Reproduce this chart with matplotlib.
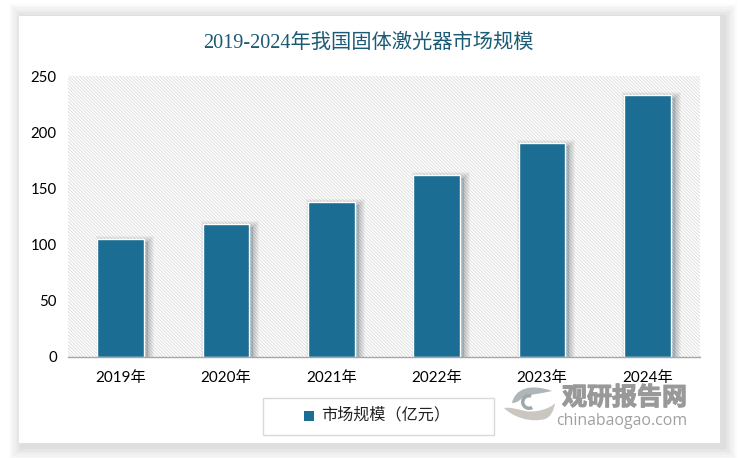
import matplotlib
matplotlib.use("Agg")
import matplotlib.pyplot as plt
import matplotlib.patheffects as pe
from matplotlib.patches import Rectangle, Wedge, PathPatch
from matplotlib.path import Path

# Data
years = ["2019年", "2020年", "2021年", "2022年", "2023年", "2024年"]
market_size = [105, 118, 138, 162, 190, 233]
y_ticks = [0, 50, 100, 150, 200, 250]
title = "2019-2024年我国固体激光器市场规模"
legend_label = "市场规模（亿元）"

W, H = 738, 458
BAR_COLOR = "#1b6d93"
TITLE_COLOR = "#1b5a75"
font_mixed = ["Liberation Serif", "Noto Sans CJK SC"]
font_ticks = ["Lato", "Noto Sans CJK SC"]

plt.rcParams["hatch.linewidth"] = 0.6
plt.rcParams["hatch.color"] = "#dadada"

fig = plt.figure(figsize=(W / 100, H / 100), dpi=100, facecolor="white")


def px_rect(x0, y0, x1, y1, **kw):
    # rectangle in pixels, y measured from the top
    return Rectangle((x0 / W, 1 - y1 / H), (x1 - x0) / W, (y1 - y0) / H,
                     transform=fig.transFigure, **kw)


def curve(points):
    # closed shape from a start point and cubic bezier triples
    codes = [Path.MOVETO] + [Path.CURVE4] * (len(points) - 1)
    return Path(points, codes)


# card with a soft shadow, kept behind the axes
for i in range(8, 0, -1):
    fig.add_artist(px_rect(19 - i * 1.6 + 3, 16 - i * 1.6 + 1, 720 + i * 1.6 + 4, 443 + i * 1.6 + 4,
                           facecolor="black", edgecolor="none", alpha=0.016, zorder=-5))
fig.add_artist(px_rect(19, 16, 720, 443, facecolor="white", edgecolor="none", zorder=-4))

ax = fig.add_axes([68 / W, 1 - 357 / H, (700 - 68) / W, (357 - 76) / H])
ax.patch.set_alpha(0)
ax.add_patch(Rectangle((0, 0), 1, 1, transform=ax.transAxes, facecolor="white",
                       edgecolor="#dadada", hatch="\\" * 10, linewidth=0, zorder=0))

# blurred shadow, shifted right and down
shadow = []
for r in [6, 5, 4, 3, 2, 1]:
    shadow.append(pe.Stroke(offset=(2.9, -2.2), linewidth=2 * r * 0.72, foreground="black", alpha=0.035))
shadow.append(pe.Normal())
bars = ax.bar(range(len(years)), market_size, width=0.44, color=BAR_COLOR,
              edgecolor="white", linewidth=1.0, zorder=2)
for b in bars:
    b.set_path_effects(shadow)

ax.set_xlim(-0.5, 5.5)
ax.set_ylim(0, 250)
ax.set_yticks(y_ticks)
ax.set_xticks(range(len(years)))
ax.set_xticklabels(years, family=font_ticks, fontsize=11)
ax.set_yticklabels([str(v) for v in y_ticks], family=font_ticks, fontsize=10.8)
ax.tick_params(axis="y", length=0, pad=8)
ax.tick_params(axis="x", length=0, pad=10)
for s in ["top", "left", "right"]:
    ax.spines[s].set_visible(False)
ax.spines["bottom"].set_color("#a6a6a6")
ax.spines["bottom"].set_linewidth(1.0)

fig.text(368 / W, 1 - 43 / H, title, ha="center", va="center", family=font_mixed,
         fontsize=14.6, color=TITLE_COLOR)

# legend box
fig.add_artist(px_rect(262.5, 397.5, 494.5, 434.5, facecolor="white", edgecolor="#d9d9d9", linewidth=1))
fig.add_artist(px_rect(304, 411, 314, 421, facecolor=BAR_COLOR, edgecolor="none"))
fig.text(321 / W, 1 - 415 / H, legend_label, ha="left", va="center",
         family=font_ticks, fontsize=11.6, color="#222222")

# watermark, logo axes in pixel coordinates
logo = fig.add_axes([498 / W, 1 - 428 / H, 66 / W, 50 / H])
logo.set_xlim(498, 564)
logo.set_ylim(428, 378)
logo.axis("off")
logo.patch.set_alpha(0)
logo.add_patch(PathPatch(curve([(512, 403), (515, 389), (530, 383), (552, 391),
                                (540, 394), (527, 394), (521, 399),
                                (518, 402), (515, 403), (512, 403)]),
                         facecolor="#aeb6b8", edgecolor="none"))
logo.add_patch(PathPatch(curve([(504, 408), (513, 417), (530, 423), (545, 419),
                                (551, 417), (554, 410), (555, 403),
                                (550, 409), (535, 413), (525, 411),
                                (517, 409), (510, 407), (504, 408)]),
                         facecolor="#c9c7c0", edgecolor="none"))
logo.add_patch(Wedge((529, 402), 8, 60, 290, width=3.5, facecolor="#9fa8aa", edgecolor="none"))

fig.text(562 / W, 1 - 398 / H, "观研报告网", ha="left", va="center",
         family="Noto Sans CJK SC", fontweight="bold", fontsize=18, color="#999999",
         path_effects=[pe.withStroke(linewidth=0.8, foreground="#999999")])
fig.text(556 / W, 1 - 421 / H, "chinabaogao.com", ha="left", va="center",
         family="Open Sans", fontweight="medium", fontsize=11.4, color="#a0a0a0")

fig.savefig("out.png", dpi=100)
